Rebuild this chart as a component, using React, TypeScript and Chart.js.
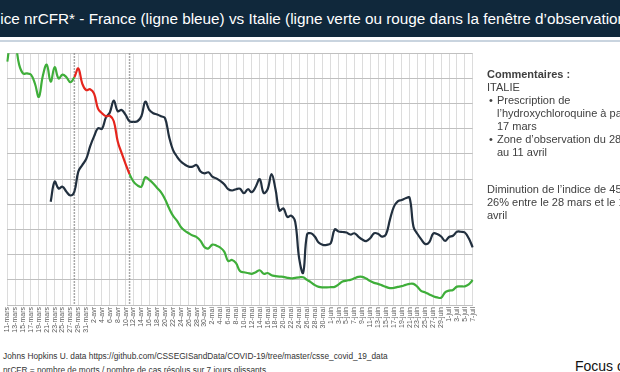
import React, { useEffect, useRef } from "react";
import { Chart, registerables } from "chart.js";

Chart.register(...registerables);

// Daily categories, 11 mars -> 7 juillet
const DAYS: string[] = [
  "11-mars", "12-mars", "13-mars", "14-mars", "15-mars", "16-mars", "17-mars", "18-mars", "19-mars", "20-mars",
  "21-mars", "22-mars", "23-mars", "24-mars", "25-mars", "26-mars", "27-mars", "28-mars", "29-mars", "30-mars", "31-mars",
  "1-avr", "2-avr", "3-avr", "4-avr", "5-avr", "6-avr", "7-avr", "8-avr", "9-avr", "10-avr",
  "11-avr", "12-avr", "13-avr", "14-avr", "15-avr", "16-avr", "17-avr", "18-avr", "19-avr", "20-avr",
  "21-avr", "22-avr", "23-avr", "24-avr", "25-avr", "26-avr", "27-avr", "28-avr", "29-avr", "30-avr",
  "1-mai", "2-mai", "3-mai", "4-mai", "5-mai", "6-mai", "7-mai", "8-mai", "9-mai", "10-mai",
  "11-mai", "12-mai", "13-mai", "14-mai", "15-mai", "16-mai", "17-mai", "18-mai", "19-mai", "20-mai",
  "21-mai", "22-mai", "23-mai", "24-mai", "25-mai", "26-mai", "27-mai", "28-mai", "29-mai", "30-mai", "31-mai",
  "1-juin", "2-juin", "3-juin", "4-juin", "5-juin", "6-juin", "7-juin", "8-juin", "9-juin", "10-juin",
  "11-juin", "12-juin", "13-juin", "14-juin", "15-juin", "16-juin", "17-juin", "18-juin", "19-juin", "20-juin",
  "21-juin", "22-juin", "23-juin", "24-juin", "25-juin", "26-juin", "27-juin", "28-juin", "29-juin", "30-juin",
  "1-juil", "2-juil", "3-juil", "4-juil", "5-juil", "6-juil", "7-juil",
];

// Italie (green, red inside the observation window)
const ITALY: number[] = [
  9.67, 10.6, 10.4, 9.55, 9.2, 9.2, 9.15, 8.8, 8.27, 9.1,
  9.55, 8.87, 9.45, 9.0, 9.15, 9.05, 8.85, 9.05, 9.4, 8.8,
  8.54, 8.57, 8.4, 7.8, 7.62, 7.5, 7.52, 7.3, 6.5, 6.03,
  5.6, 5.2, 4.9, 4.75, 4.7, 5.08, 4.97, 4.83, 4.65, 4.47,
  4.2, 3.85, 3.55, 3.35, 3.1, 2.95, 2.85, 2.76, 2.7, 2.55,
  2.3, 2.25, 2.4, 2.36, 2.28, 2.12, 1.75, 1.79, 1.66, 1.35,
  1.3, 1.27, 1.24, 1.3, 1.38, 1.24, 1.27, 1.18, 1.15, 1.13,
  1.12, 1.08, 1.06, 1.08, 1.1, 1.1, 1.0, 0.9, 0.79, 0.72,
  0.7, 0.7, 0.71, 0.72, 0.82, 0.93, 0.97, 1.0, 1.06, 1.12,
  1.12, 1.05, 0.95, 0.88, 0.84, 0.78, 0.72, 0.67, 0.68, 0.72,
  0.75, 0.8, 0.84, 0.84, 0.72, 0.55, 0.5, 0.42, 0.35, 0.3,
  0.29, 0.5, 0.57, 0.6, 0.73, 0.74, 0.74, 0.82, 0.99,
];

// France (dark blue line)
const FRANCE: (number | null)[] = [
  null, null, null, null, null, null, null, null, null, null,
  null, 4.1, 4.9, 4.63, 4.7, 4.5, 4.35, 4.5, 5.3, 5.56,
  5.8, 6.3, 6.7, 7.02, 7.0, 7.45, 7.65, 8.12, 7.7, 7.75,
  7.55, 7.3, 7.28, 7.3, 7.5, 8.08, 7.75, 7.62, 7.57, 7.5,
  7.42, 6.7, 6.16, 5.9, 5.7, 5.58, 5.5, 5.5, 5.56, 5.3,
  5.23, 5.27, 5.1, 5.03, 4.93, 4.8, 4.6, 4.55, 4.6, 4.62,
  4.44, 4.6, 4.48, 4.7, 5.0, 4.45, 4.6, 5.2, 4.6, 3.75,
  3.84, 3.5, 3.55, 3.3, 1.85, 1.28, 2.8, 2.85, 2.71, 2.47,
  2.39, 2.39, 2.45, 3.0, 2.92, 2.9, 2.88, 2.8, 2.85, 2.72,
  2.6, 2.54, 2.65, 2.85, 2.83, 2.72, 2.8, 3.38, 3.9, 4.12,
  4.17, 4.24, 4.26, 3.1, 2.82, 2.6, 2.42, 2.5, 2.84, 2.82,
  2.72, 2.55, 2.7, 2.75, 2.91, 2.91, 2.88, 2.65, 2.29,
];

// Observation window: 28 mars -> 11 avril (category indices)
const OBS_START = DAYS.indexOf("28-mars");
const OBS_END = DAYS.indexOf("11-avr");

const Y_MIN = 0;
const Y_MAX = 10;

const GREEN = "#3fae3a";
const RED = "#e5251d";
const BLUE = "#22303f";

const obsLinesPlugin = {
  id: "obsLines",
  beforeDatasetsDraw(chart: any) {
    const { ctx, chartArea, scales } = chart;
    ctx.save();
    ctx.strokeStyle = "#8a8a8a";
    ctx.lineWidth = 1.5;
    ctx.setLineDash([1.5, 1.5]);
    [OBS_START, OBS_END].forEach((idx) => {
      const x = scales.x.getPixelForValue(idx);
      ctx.beginPath();
      ctx.moveTo(x, chartArea.top);
      ctx.lineTo(x, chartArea.bottom);
      ctx.stroke();
    });
    ctx.restore();
  },
};

function NrCfrChart() {
  const ref = useRef<HTMLCanvasElement | null>(null);
  useEffect(() => {
    if (!ref.current) return;
    const chart = new Chart(ref.current, {
      type: "line",
      data: {
        labels: DAYS,
        datasets: [
          {
            label: "Italie",
            data: ITALY,
            borderColor: GREEN,
            borderWidth: 2.2,
            pointRadius: 0,
            tension: 0.4,
            fill: false,
            segment: {
              borderColor: (c: any) =>
                c.p0DataIndex >= OBS_START && c.p1DataIndex <= OBS_END ? RED : GREEN,
            },
          },
          {
            label: "France",
            data: FRANCE,
            borderColor: BLUE,
            borderWidth: 2.2,
            pointRadius: 0,
            tension: 0.4,
            fill: false,
          },
        ],
      },
      options: {
        animation: false,
        responsive: false,
        maintainAspectRatio: false,
        events: [],
        layout: { padding: { top: 11.3, left: 7.3, right: 17.3, bottom: 12 } },
        plugins: {
          legend: { display: false },
          title: { display: false },
          tooltip: { enabled: false },
        },
        scales: {
          x: {
            type: "category",
            offset: false,
            afterFit: (s: any) => {
              s.height = 28;
            },
            grid: {
              offset: false,
              drawTicks: false,
              lineWidth: 1,
              color: (c: any) => (c.index % 2 === 0 ? "#dcdcdc" : "rgba(0,0,0,0)"),
            },
            border: { display: true, color: "#bfbfbf" },
            ticks: {
              autoSkip: false,
              maxRotation: 90,
              minRotation: 90,
              padding: 2,
              color: "#595959",
              font: { family: "Liberation Sans, Arial, sans-serif", size: 7 },
              callback: (_v: any, i: number) => (i % 2 === 0 ? DAYS[i] : ""),
            },
          },
          y: {
            min: Y_MIN,
            max: Y_MAX,
            afterFit: (s: any) => {
              s.width = 0;
            },
            grid: { drawTicks: false, color: "#c0c0c0", lineWidth: 1 },
            border: { display: false },
            ticks: { display: false, stepSize: 1 },
          },
        },
      },
      plugins: [obsLinesPlugin],
    });
    return () => chart.destroy();
  }, []);
  return <canvas ref={ref} width={490} height={303} style={{ width: 490, height: 303, display: "block" }} />;
}

const panelText: React.CSSProperties = {
  position: "absolute",
  whiteSpace: "nowrap",
  fontFamily: "'Liberation Sans', Arial, sans-serif",
  fontSize: 11,
  color: "#404040",
  lineHeight: "13px",
};

export default function App() {
  return (
    <div
      style={{
        position: "fixed",
        left: 0,
        top: 0,
        width: 620,
        height: 372,
        overflow: "hidden",
        background: "#ffffff",
        fontFamily: "'Liberation Sans', Arial, sans-serif",
      }}
    >
      <div
        style={{
          position: "absolute",
          left: 0,
          top: 0,
          width: 620,
          height: 37,
          background: "#10283b",
          overflow: "hidden",
        }}
      >
        <div
          style={{
            position: "absolute",
            left: -21,
            top: 10,
            whiteSpace: "nowrap",
            color: "#ffffff",
            fontSize: 15.3,
            lineHeight: "18px",
            fontFamily: "'Liberation Sans', Arial, sans-serif",
          }}
        >
          Indice nrCFR* - France (ligne bleue) vs Italie (ligne verte ou rouge dans la fenêtre d’observation)
        </div>
      </div>
      <div style={{ position: "absolute", left: 0, top: 40, width: 620, height: 2, background: "#c9d4df" }} />

      <div style={{ position: "absolute", left: 0, top: 42 }}>
        <NrCfrChart />
      </div>

      <div style={{ ...panelText, left: 487, top: 67.5 }}>
        <div style={{ fontWeight: "bold" }}>Commentaires :</div>
        <div>ITALIE</div>
        <div style={{ position: "relative", paddingLeft: 10 }}>
          <span style={{ position: "absolute", left: 2 }}>•</span>
          Prescription de
        </div>
        <div style={{ paddingLeft: 10 }}>l’hydroxychloroquine à partir du</div>
        <div style={{ paddingLeft: 10 }}>17 mars</div>
        <div style={{ position: "relative", paddingLeft: 10 }}>
          <span style={{ position: "absolute", left: 2 }}>•</span>
          Zone d’observation du 28 mars
        </div>
        <div style={{ paddingLeft: 10 }}>au 11 avril</div>
      </div>

      <div style={{ ...panelText, left: 487, top: 182.5 }}>
        <div>Diminution de l’indice de 45% à</div>
        <div>26% entre le 28 mars et le 11</div>
        <div>avril</div>
      </div>

      <div
        style={{
          position: "absolute",
          left: 3,
          top: 349,
          whiteSpace: "nowrap",
          fontSize: 8.3,
          lineHeight: "14px",
          color: "#333333",
        }}
      >
        <div>Johns Hopkins U. data https://github.com/CSSEGISandData/COVID-19/tree/master/csse_covid_19_data</div>
        <div>nrCFR = nombre de morts / nombre de cas résolus sur 7 jours glissants</div>
      </div>

      <div
        style={{
          position: "absolute",
          left: 575,
          top: 358,
          whiteSpace: "nowrap",
          fontSize: 14,
          lineHeight: "16px",
          color: "#111111",
        }}
      >
        Focus on
      </div>
    </div>
  );
}
